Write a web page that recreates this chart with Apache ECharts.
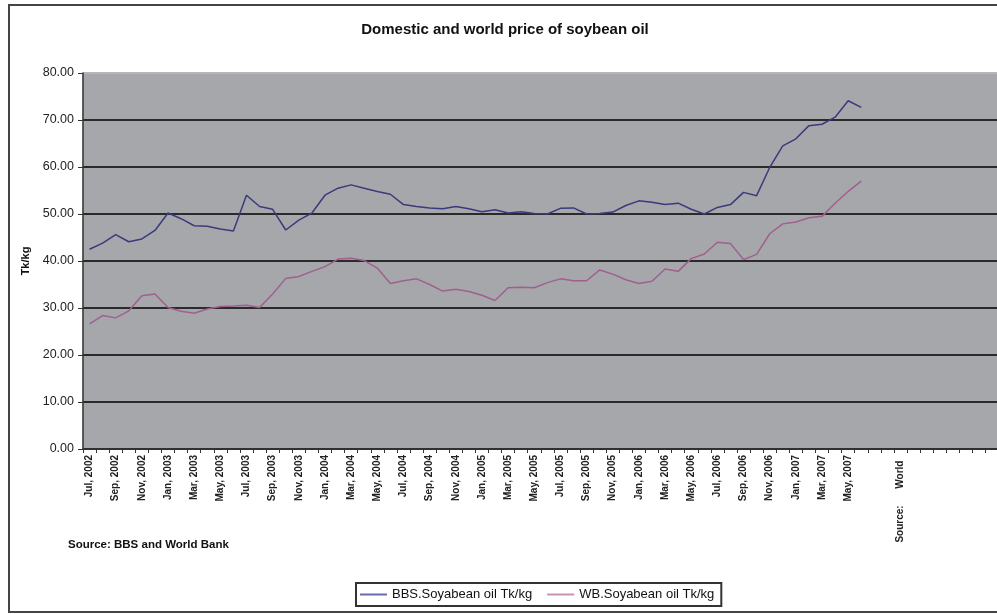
<!DOCTYPE html>
<html>
<head>
<meta charset="utf-8">
<script src="https://cdn.jsdelivr.net/npm/echarts@6/dist/echarts.min.js"></script>
<style>
html,body{margin:0;padding:0;background:#fff;overflow:hidden;width:997px;height:614px;}
#c{width:1010px;height:614px;}
</style>
</head>
<body>
<div id="c"></div>
<script>
const categories = [
  "Jul, 2002","Aug, 2002","Sep, 2002","Oct, 2002","Nov, 2002","Dec, 2002",
  "Jan, 2003","Feb, 2003","Mar, 2003","Apr, 2003","May, 2003","Jun, 2003",
  "Jul, 2003","Aug, 2003","Sep, 2003","Oct, 2003","Nov, 2003","Dec, 2003",
  "Jan, 2004","Feb, 2004","Mar, 2004","Apr, 2004","May, 2004","Jun, 2004",
  "Jul, 2004","Aug, 2004","Sep, 2004","Oct, 2004","Nov, 2004","Dec, 2004",
  "Jan, 2005","Feb, 2005","Mar, 2005","Apr, 2005","May, 2005","Jun, 2005",
  "Jul, 2005","Aug, 2005","Sep, 2005","Oct, 2005","Nov, 2005","Dec, 2005",
  "Jan, 2006","Feb, 2006","Mar, 2006","Apr, 2006","May, 2006","Jun, 2006",
  "Jul, 2006","Aug, 2006","Sep, 2006","Oct, 2006","Nov, 2006","Dec, 2006",
  "Jan, 2007","Feb, 2007","Mar, 2007","Apr, 2007","May, 2007","Jun, 2007",
  "","","Source:      World  ","","","","","","",""
];
const bbsValues = [
  42.5,43.8,45.6,44.1,44.7,46.5,50.2,49.0,47.5,47.4,46.8,46.4,
  54.0,51.6,51.0,46.6,48.7,50.2,54.0,55.5,56.2,55.5,54.8,54.2,
  52.0,51.6,51.3,51.1,51.6,51.1,50.5,50.9,50.2,50.5,50.1,50.0,
  51.2,51.3,50.0,50.1,50.4,51.8,52.8,52.5,52.0,52.3,51.0,50.0,
  51.4,52.0,54.6,53.9,59.9,64.5,66.0,68.8,69.1,70.6,74.1,72.7
];
const wbValues = [
  26.6,28.4,27.9,29.4,32.6,33.0,30.1,29.3,28.9,29.8,30.3,30.4,
  30.6,30.1,33.0,36.3,36.7,37.8,38.8,40.4,40.6,40.1,38.5,35.2,
  35.8,36.2,35.0,33.6,34.0,33.5,32.7,31.6,34.3,34.4,34.3,35.4,
  36.2,35.8,35.8,38.1,37.2,36.0,35.2,35.7,38.3,37.8,40.5,41.5,
  44.0,43.7,40.3,41.4,45.8,47.9,48.3,49.2,49.5,52.3,54.8,57.0
];
const seriesNames = ["BBS.Soyabean oil Tk/kg","WB.Soyabean oil Tk/kg"];
const titleText = "Domestic and world price of soybean oil";
const sourceText = "Source: BBS and World Bank";
const yName = "Tk/kg";

const font = "'Liberation Sans', Arial, sans-serif";
const chart = echarts.init(document.getElementById('c'), null, {renderer:'canvas'});
chart.setOption({
  animation:false,
  backgroundColor:'#fff',
  title:{text:titleText,left:'center',top:17,textStyle:{fontFamily:font,fontSize:15,fontWeight:'bold',color:'#111'}},
  graphic:[
    {type:'rect',shape:{x:9,y:5,width:995,height:607},style:{fill:'none',stroke:'#444',lineWidth:2},silent:true,z:-1},
    {type:'text',left:68,top:539,style:{text:sourceText,font:"bold 11.5px 'Liberation Sans', Arial, sans-serif",fill:'#111'}}
  ],
  legend:{
    data:seriesNames,left:356,top:583,orient:'horizontal',icon:'rect',
    borderColor:'#333',borderWidth:2,padding:[5,7,5,4],itemGap:15,itemWidth:27,itemHeight:2,
    textStyle:{fontFamily:font,fontSize:13,color:'#111'}
  },
  grid:{left:83,top:73,width:915.6,height:376,show:true,backgroundColor:'#a5a7ab',borderColor:'#b5b5b5',borderWidth:1},
  xAxis:{
    type:'category',data:categories,boundaryGap:true,
    axisLine:{lineStyle:{color:'#333',width:1.5}},
    axisTick:{show:true,interval:0,length:4,lineStyle:{color:'#333'}},
    axisLabel:{interval:1,rotate:90,margin:6,fontFamily:font,fontSize:10,fontWeight:'bold',color:'#222'},
    splitLine:{show:false}
  },
  yAxis:{
    type:'value',min:0,max:80,interval:10,
    name:yName,nameLocation:'middle',nameRotate:90,nameGap:48,
    nameTextStyle:{fontFamily:font,fontSize:11,fontWeight:'bold',color:'#111'},
    axisLine:{show:true,lineStyle:{color:'#333',width:1.5}},
    axisTick:{show:true,length:5,lineStyle:{color:'#333'}},
    axisLabel:{formatter:v=>v.toFixed(2),margin:9,fontFamily:font,fontSize:12.5,color:'#222'},
    splitLine:{show:true,lineStyle:{color:['#2a2a2a','#2a2a2a','#2a2a2a','#2a2a2a','#2a2a2a','#2a2a2a','#2a2a2a','#2a2a2a','#b5b5b5'],width:2}}
  },
  series:[
    {name:seriesNames[0],type:'line',data:bbsValues,symbol:'none',lineStyle:{color:'#3a3a7c',width:1.5},itemStyle:{color:'#6a6ab0'}},
    {name:seriesNames[1],type:'line',data:wbValues,symbol:'none',lineStyle:{color:'#a0608f',width:1.5},itemStyle:{color:'#c890b8'}}
  ]
});
</script>
</body>
</html>
